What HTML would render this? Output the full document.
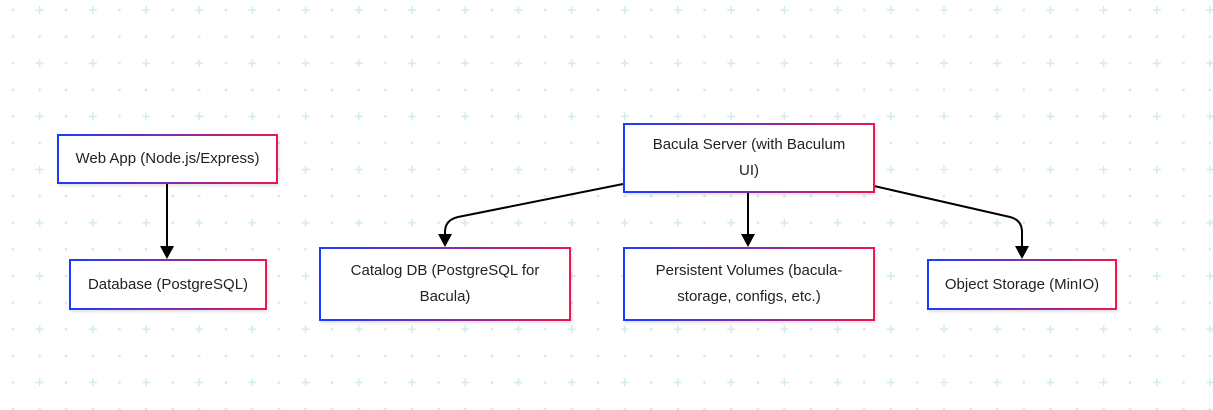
<!DOCTYPE html>
<html><head><style>
body{margin:0;width:1213px;height:410px;overflow:hidden;background:#fff;font-family:"Liberation Sans",sans-serif}
.b{position:absolute;box-sizing:border-box;border:2px solid;border-image:linear-gradient(90deg,#1a3cff,#7a2fb0,#f0154f) 1;background:#fff;box-shadow:1px 2px 3px rgba(0,0,0,.12);display:flex;align-items:center;justify-content:center;text-align:center;font-size:15px;line-height:26px;color:#222;padding:0 12px}
svg{position:absolute;left:0;top:0}
</style></head><body>
<svg width="1213" height="410">
<defs>
<pattern id="g" x="0" y="0" width="53.2" height="53.2" patternUnits="userSpaceOnUse">
<g fill="#d3ecef">
<circle cx="13" cy="10" r="1.4"/><circle cx="13" cy="36.6" r="1.4"/><circle cx="39.6" cy="36.6" r="1.4"/>
<rect x="35.6" y="9.2" width="8" height="1.6"/><rect x="38.8" y="6" width="1.6" height="8"/>
</g></pattern>
</defs>
<rect width="1213" height="410" fill="url(#g)"/>
<g stroke="#000" stroke-width="2" fill="none">
<line x1="167" y1="183" x2="167" y2="247"/>
<line x1="748" y1="192" x2="748" y2="235"/>
<path d="M623,184 L458,217 Q445,220 445,232 L445,235"/>
<path d="M874,186 L1010,217 Q1022,220 1022,232 L1022,247"/>
</g>
<g fill="#000">
<path d="M160,246 L174,246 L167,259 Z"/>
<path d="M741,234 L755,234 L748,247 Z"/>
<path d="M438,234 L452,234 L445,247 Z"/>
<path d="M1015,246 L1029,246 L1022,259 Z"/>
</g>
</svg>
<div class="b" style="left:57px;top:134px;width:221px;height:50px">Web App (Node.js/Express)</div>
<div class="b" style="left:69px;top:259px;width:198px;height:51px">Database (PostgreSQL)</div>
<div class="b" style="left:623px;top:123px;width:252px;height:70px;padding:0 24px">Bacula Server (with Baculum UI)</div>
<div class="b" style="left:319px;top:247px;width:252px;height:74px;padding:0 24px">Catalog DB (PostgreSQL for Bacula)</div>
<div class="b" style="left:623px;top:247px;width:252px;height:74px;padding:0 24px">Persistent Volumes (bacula-storage, configs, etc.)</div>
<div class="b" style="left:927px;top:259px;width:190px;height:51px">Object Storage (MinIO)</div>
</body></html>
